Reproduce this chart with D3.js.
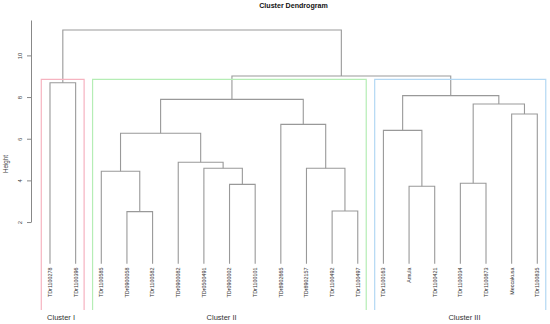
<!DOCTYPE html>
<html><head><meta charset="utf-8">
<script src="https://cdn.jsdelivr.net/npm/d3@7"></script>
<style>body{margin:0;background:#fff}svg{display:block}text{font-family:"Liberation Sans",Arial,sans-serif}</style>
</head><body>
<svg id="c" width="550" height="324"></svg>
<script>
// Leaf labels in dendrogram order
const leaves = ["TDr1100278","TDr1100396","TDr1100585","TDr0900058","TDr1100582","TDr0900082","TDr0500491","TDr0900002","TDr1100101","TDr8902665","TDr8902157","TDr1100492","TDr1100497","TDr1100163","Amula","TDr1100421","TDr1100034","TDr1100873","Meccakusa","TDr1100835"];
// hclust-style merges: negative = leaf (1-based), positive = earlier merge (1-based)
const mergeLeft  = [-4,-12,-15,-8,-17,-3,-7,-11,-6, 6,-14,-10,-19, 5, 10, 11,-1, 15, 17];
const mergeRight = [-5,-13,-16,-9,-18, 1, 4,  2, 7, 9,  3,  8,-20,13, 12, 14,-2, 16, 18];
const mergeHeight = [2.50,2.53,3.72,3.81,3.86,4.44,4.58,4.58,4.87,6.26,6.40,6.69,7.19,7.67,7.89,8.07,8.69,9.01,11.22];
const yTicks = [2,4,6,8,10];
const clusterNames = ["Cluster I","Cluster II","Cluster III"];
const clusterStart = [1,3,14];
const clusterEnd = [2,13,20];
const clusterColors = ["#f6b3c0","#b5edb5","#b3d8f3"];

const svg = d3.select("#c");
const x = d3.scaleLinear().domain([1, leaves.length]).range([50, 537.3]);
const y = d3.scaleLinear().domain([0, 10]).range([263.7, 55.4]);

const pos = [];
function node(i){ return i < 0 ? {x: x(-i), h: 0} : pos[i-1]; }
const lineCol = "#999";
const g = svg.append("g").attr("fill","none").attr("stroke",lineCol).attr("stroke-width",1.1);
mergeHeight.forEach((h, k) => {
  const a = node(mergeLeft[k]), b = node(mergeRight[k]);
  pos.push({x: (a.x + b.x)/2, h});
  g.append("path").attr("d",
    `M${a.x},${y(a.h)}V${y(h)}H${b.x}V${y(b.h)}`);
});

// cluster rectangles (rect.hclust style, bottom clipped by plot region)
const rectTop = (mergeHeight[mergeHeight.length-2] + mergeHeight[mergeHeight.length-3]) / 2;
clusterNames.forEach((nm, i) => {
  const x0 = x(clusterStart[i] - 0.34), x1 = x(clusterEnd[i] + 0.33);
  svg.append("path").attr("d", `M${x0},310V${y(rectTop)}H${x1}V310`)
    .attr("fill","none").attr("stroke", clusterColors[i]).attr("stroke-width",1.2);
});

// cluster labels
const labelIdx = [1.43, 7.69, 17.16];
clusterNames.forEach((nm, i) => {
  svg.append("text").attr("x", x(labelIdx[i])).attr("y", 319.5)
    .attr("text-anchor","middle").attr("font-size",7.5).attr("fill","#333").text(nm);
});

// leaf labels
svg.append("g").selectAll("text").data(leaves).join("text")
  .attr("transform", (d,i) => `translate(${x(i+1)},267.5) rotate(-90)`)
  .attr("text-anchor","end").attr("dy","0.35em").attr("font-size",5.4).attr("fill","#333")
  .text(d => d);

// y axis
const yAx = y.copy().domain([2, 11.7]).range([y(2), y(11.7)]);
const ax = svg.append("g").attr("transform","translate(31,0)")
  .call(d3.axisLeft(yAx).tickValues(yTicks).tickSize(4).tickSizeOuter(0).tickFormat(d3.format("d")));
ax.select(".domain").attr("stroke", "#888");
ax.selectAll(".tick line").attr("stroke","#888");
ax.selectAll(".tick text").attr("font-size",6).attr("fill","#444")
  .attr("x",0).attr("dy",0).attr("text-anchor","middle")
  .attr("transform","translate(-9,0) rotate(-90)");

svg.append("text").attr("transform","translate(8,164) rotate(-90)")
  .attr("text-anchor","middle").attr("font-size",6.3).attr("fill","#444").text("Height");

svg.append("text").attr("x",293.5).attr("y",8).attr("text-anchor","middle")
  .attr("font-size",7.1).attr("font-weight","bold").attr("fill","#111").text("Cluster Dendrogram");
</script>
</body></html>
